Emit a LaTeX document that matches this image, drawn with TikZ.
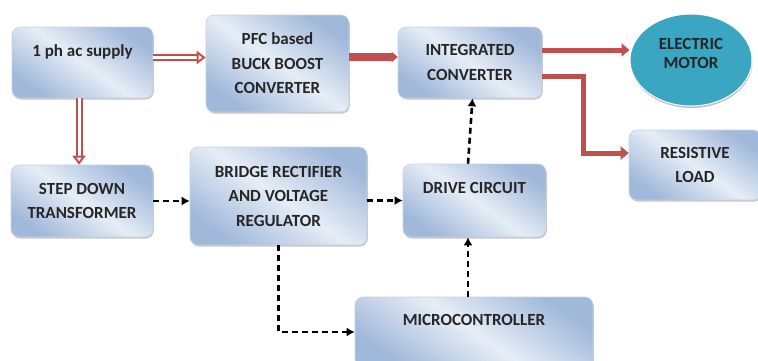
\documentclass[tikz,border=0pt]{standalone}
\usepackage{fontspec}
\setmainfont{Carlito}
\usetikzlibrary{arrows.meta,shapes.geometric,shadows}

\definecolor{boxdark}{HTML}{A0B8DA}
\definecolor{boxlight}{HTML}{E6EDF6}
\definecolor{boxedge}{HTML}{C6D2E4}
\definecolor{arrred}{HTML}{C0504D}
\definecolor{motorfill}{HTML}{3AA6C2}

\tikzset{
  block/.style={draw=boxedge, line width=0.6pt, rounded corners=8pt,
    top color=boxdark, bottom color=boxdark, middle color=boxlight,
    shading angle=-35, align=center, font=\bfseries\fontsize{17}{24.5}\selectfont,
    text=black!85, inner sep=2pt,
    drop shadow={opacity=0.45, shadow xshift=0.8pt, shadow yshift=-1.5pt}},
  hollow/.style={draw=arrred, double=white, line width=2pt, double distance=3pt,
    -{Triangle[open, length=9pt, width=13pt]}},
  power/.style={draw=arrred, line width=5pt, -{Triangle[length=8pt, width=13pt]}},
  bigpower/.style={draw=arrred, line width=8pt, -{Triangle[length=6pt, width=10pt]}},
  signal/.style={draw=black, line width=2.6pt, dash pattern=on 6pt off 4pt,
    -{Latex[length=8pt, width=9pt]}}
}

\begin{document}
\begin{tikzpicture}[x=1pt,y=-1pt]
\useasboundingbox (0,0) rectangle (758,360);

% top row: supply -> converters -> loads
\node[block, minimum width=141pt, minimum height=71pt] (sup) at (82.5,62.5) {1 ph ac supply\\~};
\node[block, minimum width=143pt, minimum height=97pt] (pfc) at (277.5,63.5) {PFC based\\BUCK BOOST\\CONVERTER};
\node[block, minimum width=144pt, minimum height=71pt] (intg) at (470,62.5) {INTEGRATED\\CONVERTER};
\node[ellipse, draw=white, line width=1pt, fill=motorfill, minimum width=122pt, minimum height=92pt,
  align=center, font=\bfseries\fontsize{17}{19}\selectfont, text=black!85,
  drop shadow={opacity=0.5, shadow xshift=0.5pt, shadow yshift=-2pt}] (motor) at (691,60) {ELECTRIC\\MOTOR\\[-6pt]~};
\node[block, minimum width=132pt, minimum height=70pt] (load) at (695,165) {RESISTIVE\\LOAD};

% bottom row: control side
\node[block, minimum width=142pt, minimum height=72pt] (step) at (82,201) {STEP DOWN\\TRANSFORMER};
\node[block, minimum width=177pt, minimum height=98pt] (bridge) at (278.5,196) {BRIDGE RECTIFIER\\AND VOLTAGE\\REGULATOR};
\node[block, minimum width=143pt, minimum height=73pt] (drive) at (474.5,200.5) {DRIVE CIRCUIT\\~};
\node[block, minimum width=238pt, minimum height=70pt] (micro) at (474,332) {MICROCONTROLLER\\~};

% power path
\draw[hollow] ([yshift=5pt]sup.east) -- ([yshift=5pt]sup.east -| pfc.west);
\draw[hollow] ([xshift=-3.5pt]sup.south) -- ([xshift=-3.5pt]sup.south |- step.north);
\draw[bigpower] ([yshift=6.5pt]pfc.east) -- ([yshift=6.5pt]pfc.east -| intg.west);
\draw[power] ([yshift=12.5pt]intg.east) -- ([yshift=12.5pt]intg.east -| motor.west);
\draw[power] ([yshift=-13.5pt]intg.east) -- ++(41,0) |- ([yshift=12pt]load.west);

% control signals
\draw[signal] (step.east) -- (step.east -| bridge.west);
\draw[signal] (drive.west -| bridge.east) -- (drive.west);
\draw[signal] (bridge.south) |- (micro.west);
\draw[signal] ([xshift=-6.5pt]micro.north -| drive.south) -- ([xshift=-6.5pt]drive.south);
\draw[signal] ([xshift=-6.5pt]drive.north) -- ([xshift=-2pt]intg.south -| drive.north);
\end{tikzpicture}
\end{document}
